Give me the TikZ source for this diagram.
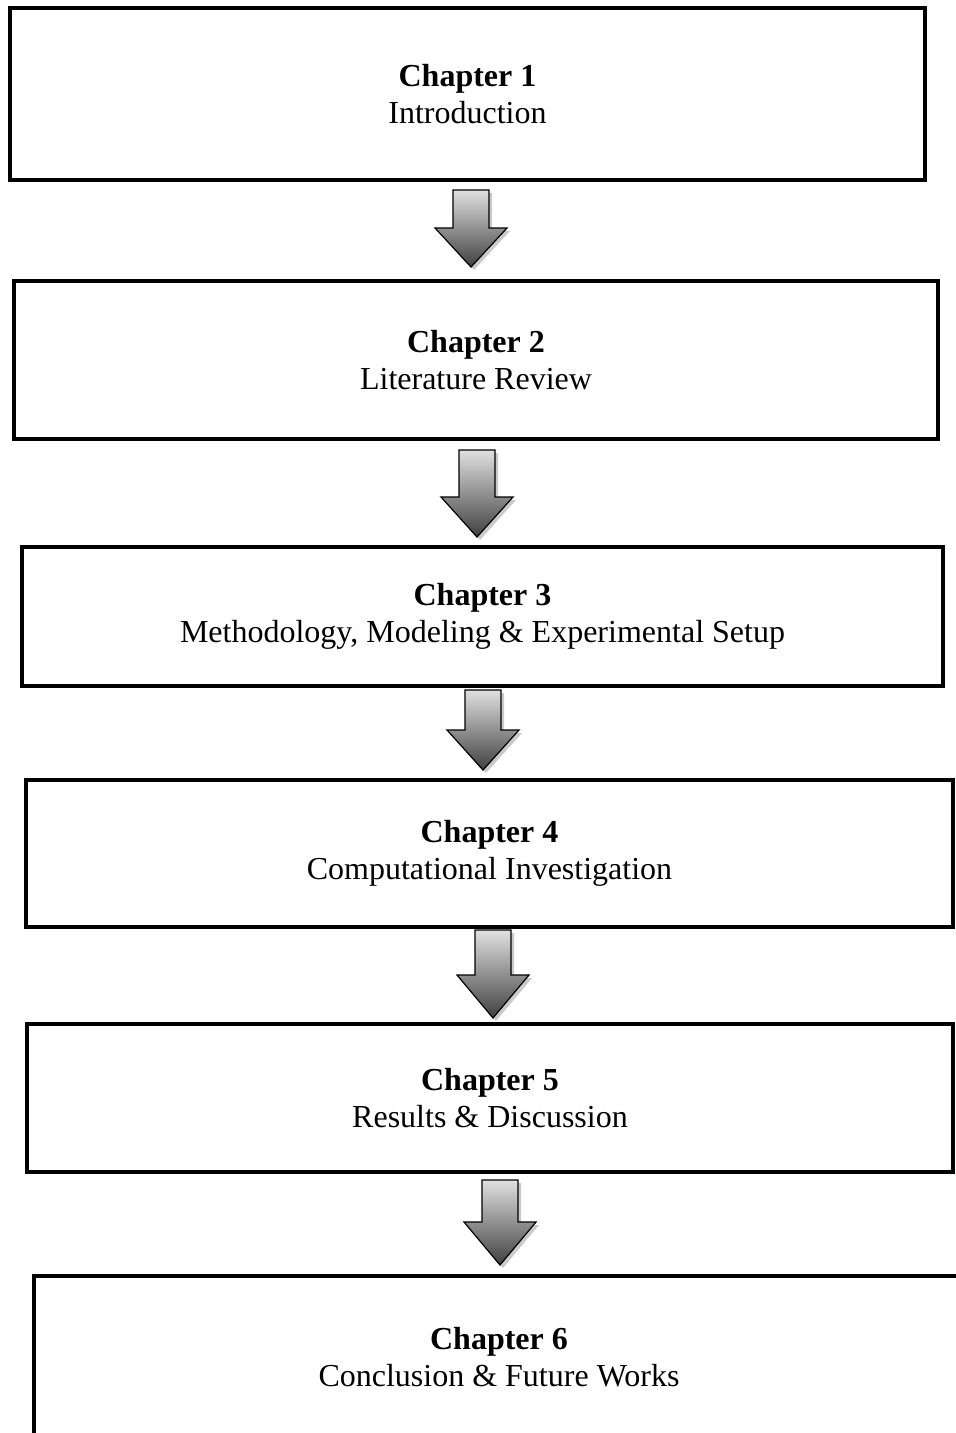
\documentclass[tikz,border=0pt]{standalone}
\usepackage{fontspec}
\setmainfont{Liberation Serif}
\usetikzlibrary{calc}
\begin{document}
\newcommand{\flowarrow}[5]{%
  % #1 name, #2 cx, #3 top, #4 head start, #5 tip
  \coordinate (#1) at (#2,#3);
  \fill[black!35,opacity=0.6] ($(#2-18,#3)+(3,3)$) -- ($(#2+18,#3)+(3,3)$) -- ($(#2+18,#4)+(3,3)$) -- ($(#2+36,#4)+(3,3)$) -- ($(#2,#5)+(3,3)$) -- ($(#2-36,#4)+(3,3)$) -- ($(#2-18,#4)+(3,3)$) -- cycle;
  \path[draw=black,line width=1.2pt,top color=black!12,bottom color=black!75]
    (#2-18,#3) -- (#2+18,#3) -- (#2+18,#4) -- (#2+36,#4) -- (#2,#5) -- (#2-36,#4) -- (#2-18,#4) -- cycle;
}
\begin{tikzpicture}[x=1pt,y=-1pt,
  chapbox/.style={draw=black,line width=4.8pt,fill=white,align=center,inner sep=0pt,
    font=\fontsize{32}{37}\selectfont},
  ]
\useasboundingbox (0,0) rectangle (956,1433);
\clip (0,0) rectangle (956,1433);
\node[chapbox,minimum width=915,minimum height=172] (c1) at (467.5,94) {\textbf{Chapter 1}\\Introduction};
\node[chapbox,minimum width=924,minimum height=158] (c2) at (476,360) {\textbf{Chapter 2}\\Literature Review};
\node[chapbox,minimum width=921,minimum height=139] (c3) at (482.5,616.5) {\textbf{Chapter 3}\\Methodology, Modeling \& Experimental Setup};
\node[chapbox,minimum width=927,minimum height=147] (c4) at (489.5,853.5) {\textbf{Chapter 4}\\Computational Investigation};
\node[chapbox,minimum width=926,minimum height=148] (c5) at (490,1098) {\textbf{Chapter 5}\\Results \& Discussion};
\node[chapbox,minimum width=930,minimum height=162] (c6) at (499,1357) {\textbf{Chapter 6}\\Conclusion \& Future Works};
\flowarrow{a1}{471}{190}{228}{267}
\flowarrow{a2}{477}{450}{497}{537}
\flowarrow{a3}{483}{690}{730}{770}
\flowarrow{a4}{493}{930}{975}{1018}
\flowarrow{a5}{500}{1180}{1222}{1265}
\end{tikzpicture}
\end{document}
